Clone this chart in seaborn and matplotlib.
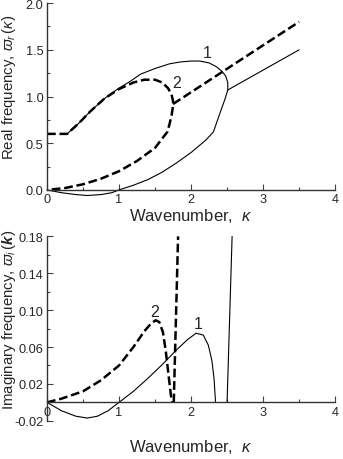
import numpy as np
import pandas as pd
import matplotlib
matplotlib.use("Agg")
import matplotlib.pyplot as plt
import seaborn as sns
from matplotlib.ticker import MultipleLocator, FixedLocator, FormatStrFormatter

# ---- top panel: real frequency ----
# curve 1 (thin solid): lower branch, loop, upper branch back to 0.6
re1_x = [0, 0.2, 0.4, 0.56, 0.75, 0.9, 1.0, 1.2, 1.4, 1.6, 1.8, 2.0, 2.2, 2.31,
         2.4, 2.47, 2.51, 2.51, 2.48, 2.43, 2.35, 2.25, 2.12, 2.0, 1.85, 1.7,
         1.5, 1.3, 1.15, 1.0, 0.8, 0.6, 0.45, 0.28]
re1_y = [0, -0.03, -0.05, -0.06, -0.05, -0.03, 0.0, 0.05, 0.11, 0.19, 0.29, 0.40, 0.53, 0.62,
         0.82, 0.97, 1.07, 1.15, 1.22, 1.27, 1.32, 1.36, 1.38, 1.38, 1.37, 1.35,
         1.30, 1.24, 1.16, 1.09, 0.98, 0.84, 0.72, 0.60]
re1_branch_x = [2.51, 3.5]
re1_branch_y = [1.07, 1.5]

# curve 2 (thick dashed)
re2_x = [0, 0.28, 0.45, 0.6, 0.8, 1.0, 1.2, 1.35, 1.5, 1.6, 1.68, 1.73, 1.75, 1.75,
         1.73, 1.7, 1.67, 1.5, 1.25, 1.0, 0.75, 0.5, 0.25, 0]
re2_y = [0.6, 0.6, 0.72, 0.84, 0.98, 1.08, 1.15, 1.18, 1.18, 1.15, 1.09, 1.02, 0.95, 0.9,
         0.8, 0.7, 0.62, 0.45, 0.31, 0.2, 0.12, 0.06, 0.02, 0]
re2_branch_x = [1.75, 3.5]
re2_branch_y = [0.92, 1.8]

# ---- bottom panel: imaginary frequency ----
im1_x = [0, 0.2, 0.4, 0.56, 0.7, 0.85, 1.0, 1.2, 1.4, 1.6, 1.8, 1.95, 2.07, 2.17,
         2.24, 2.29, 2.32, 2.34]
im1_y = [0, -0.009, -0.015, -0.017, -0.015, -0.009, 0.0, 0.012, 0.026, 0.041, 0.057, 0.068,
         0.075, 0.073, 0.062, 0.045, 0.025, 0.0]
im1_branch_x = [2.5, 2.57]
im1_branch_y = [0.0, 0.18]

im2_x = [0, 0.2, 0.5, 0.75, 1.0, 1.2, 1.35, 1.45, 1.51, 1.56, 1.61, 1.65, 1.69, 1.72, 1.74]
im2_y = [0, 0.004, 0.012, 0.024, 0.040, 0.060, 0.077, 0.086, 0.089, 0.087, 0.076, 0.055,
         0.028, 0.008, 0.0]
im2_branch_x = [1.76, 1.82]
im2_branch_y = [0.0, 0.18]

sns.set_style("ticks")
plt.rcParams['font.family'] = ['Liberation Sans', 'DejaVu Sans']
plt.rcParams['mathtext.fontset'] = 'custom'
plt.rcParams['mathtext.rm'] = 'Liberation Sans'
plt.rcParams['mathtext.it'] = 'Liberation Sans:italic'
plt.rcParams['mathtext.bf'] = 'Liberation Sans:bold:italic'

fig = plt.figure(figsize=(3.43, 4.60), dpi=100)
ax1 = fig.add_axes([0.137, 0.585, 0.840, 0.406])
ax2 = fig.add_axes([0.137, 0.083, 0.840, 0.401])


def draw(ax, x, y, style, clip=True):
    if style == 'solid':
        sns.lineplot(x=x, y=y, ax=ax, color='black', lw=0.8, sort=False, estimator=None)
    else:
        sns.lineplot(x=x, y=y, ax=ax, color='black', lw=1.8, sort=False, estimator=None,
                     linestyle=(0, (3.5, 1.5)))
    ax.lines[-1].set_clip_on(clip)


draw(ax1, re1_x, re1_y, 'solid', clip=False)
draw(ax1, re1_branch_x, re1_branch_y, 'solid')
draw(ax1, re2_x, re2_y, 'dashed')
draw(ax1, re2_branch_x, re2_branch_y, 'dashed')

draw(ax2, im1_x, im1_y, 'solid')
draw(ax2, im1_branch_x, im1_branch_y, 'solid')
draw(ax2, im2_x, im2_y, 'dashed')
draw(ax2, im2_branch_x, im2_branch_y, 'dashed')

ax1.text(2.23, 1.47, '1', fontsize=11.5, ha='center', va='center')
ax1.text(1.8, 1.15, '2', fontsize=11.5, ha='center', va='center')
ax2.text(1.5, 0.099, '2', fontsize=11.5, ha='center', va='center')
ax2.text(2.1, 0.085, '1', fontsize=11.5, ha='center', va='center')

for ax in (ax1, ax2):
    ax.set_xlim(0, 4)
    sns.despine(ax=ax)
    ax.xaxis.set_major_locator(MultipleLocator(1))
    ax.xaxis.set_minor_locator(MultipleLocator(0.5))
    ax.tick_params(which='both', direction='in', labelsize=9.2, width=0.8, color='#444',
                   pad=2.5)
    ax.tick_params(which='major', length=4)
    ax.tick_params(which='minor', length=2)
    for s in ('left', 'bottom'):
        ax.spines[s].set_color('#333')
        ax.spines[s].set_linewidth(1.0)
    ax.set_xlabel(r'Wavenumber,  $\kappa$', fontsize=12)

ax1.set_ylim(0, 2.0)
ax1.yaxis.set_major_locator(MultipleLocator(0.5))
ax1.yaxis.set_minor_locator(MultipleLocator(0.25))
ax1.yaxis.set_major_formatter(FormatStrFormatter('%.1f'))
ax1.set_ylabel(r'Real frequency, $\varpi_r\,(\kappa)$', fontsize=10.8)
ax1.xaxis.set_label_coords(0.5, -0.085)
ax1.yaxis.set_label_coords(-0.102, 0.557)

ax2.set_ylim(-0.02, 0.18)
ax2.spines['bottom'].set_position(('data', 0))
ax2.yaxis.set_major_locator(FixedLocator([-0.02, 0.02, 0.06, 0.10, 0.14, 0.18]))
ax2.yaxis.set_minor_locator(FixedLocator([0.04, 0.08, 0.12, 0.16]))
ax2.yaxis.set_major_formatter(FormatStrFormatter('%.2f'))
ax2.set_ylabel(r'Imaginary frequency, $\varpi_i\,(\mathbf{k})$', fontsize=10.8)
ax2.xaxis.set_label_coords(0.5, -0.09)
ax2.yaxis.set_label_coords(-0.102, 0.55)

fig.savefig('out.png', dpi=100)
